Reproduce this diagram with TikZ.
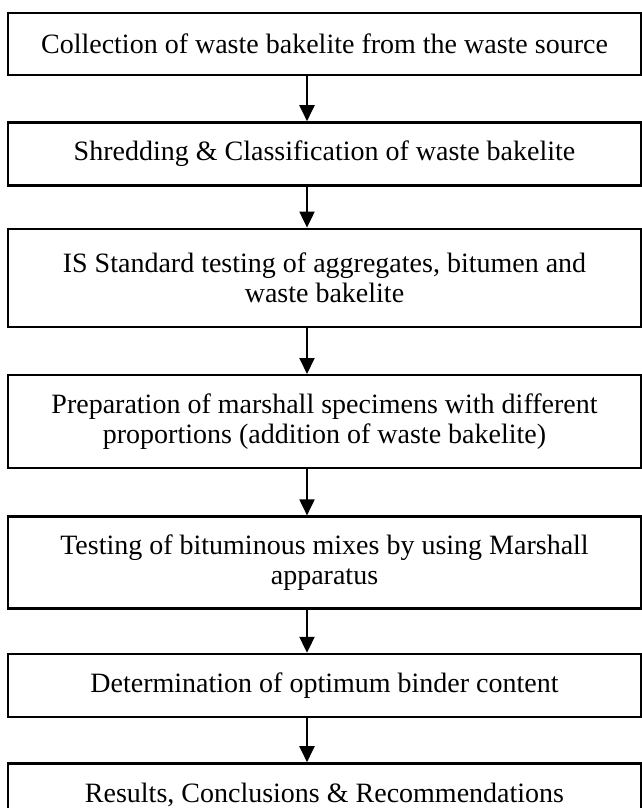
\documentclass[tikz,border=0pt]{standalone}
\usepackage{fontspec}
\setmainfont{Liberation Serif}
\usepackage{tikz}
\usetikzlibrary{arrows.meta, positioning}

\begin{document}
\begin{tikzpicture}[
    stepbox/.style={draw=black, fill=white, line width=2.4pt, minimum width=633pt,
                    align=center, inner sep=0pt, font=\fontsize{28}{29.5}\selectfont},
    flowarrow/.style={-{Triangle[length=16pt, width=15pt]}, line width=2pt}
  ]
  \useasboundingbox (0,0) rectangle (641pt,-808pt);
  \node[stepbox, minimum height=62pt] (collect) at (324.5pt,-44pt)
    {Collection of waste bakelite from the waste source};
  \node[stepbox, minimum height=63pt, below=45pt of collect] (shred)
    {Shredding \& Classification of waste bakelite};
  \node[stepbox, minimum height=98pt, below=41pt of shred] (istest)
    {IS Standard testing of aggregates, bitumen and\\ waste bakelite};
  \node[stepbox, minimum height=93pt, below=46pt of istest] (prep)
    {Preparation of marshall specimens with different\\ proportions (addition of waste bakelite)};
  \node[stepbox, minimum height=92pt, below=46pt of prep] (mixtest)
    {Testing of bituminous mixes by using Marshall\\ apparatus};
  \node[stepbox, minimum height=63pt, below=43pt of mixtest] (binder)
    {Determination of optimum binder content};
  \node[stepbox, minimum height=63pt, below=44pt of binder] (results)
    {Results, Conclusions \& Recommendations};
  % arrows sit a bit left of the box centres
  \coordinate (axis) at (307pt,0);
  \foreach \a/\b in {collect/shred, shred/istest, istest/prep, prep/mixtest,
                     mixtest/binder, binder/results}
    \draw[flowarrow] (\a.south -| axis) -- (\b.north -| axis);
\end{tikzpicture}
\end{document}
